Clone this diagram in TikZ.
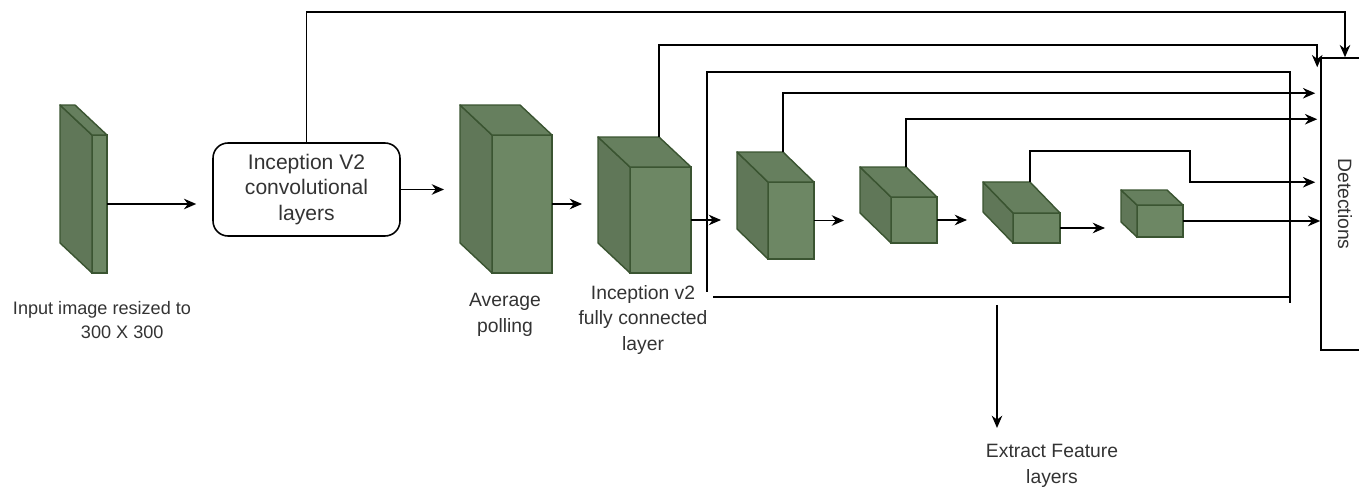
\documentclass[tikz,border=0pt]{standalone}
\usepackage{fontspec}
\setmainfont{Liberation Sans}
\usepackage{tikz}
\usetikzlibrary{arrows.meta,calc}

\definecolor{cubefill}{HTML}{6D8764}
\definecolor{cubeline}{HTML}{3A5431}

% front face as a node, then the shaded left and top faces behind it
\newcommand{\greencube}[6]{%
    \node[front, minimum width=#3, minimum height=#4] (#1) at #2 {};
    \coordinate (#1-t) at ($(#1.north east)+(#5,#6)$);
    \coordinate (#1-w) at ($(#1.west)+(#5,0)$);
    \filldraw[side, fill=cubefill!88!black] (#1.north west) -- ++(#5,#6) -- ($(#1.south west)+(#5,#6)$) -- (#1.south west) -- cycle;
    \filldraw[side, fill=cubefill!94!black] (#1.north west) -- ++(#5,#6) -- (#1-t) -- (#1.north east) -- cycle;
}

\begin{document}
\begin{tikzpicture}[x=0.02cm, y=-0.02cm, >={Stealth[length=7pt,width=6pt]}, line width=0.9pt,
    front/.style={draw=cubeline, fill=cubefill, line width=0.8pt, inner sep=0pt, outer sep=0pt},
    side/.style={draw=cubeline, line width=0.8pt, line join=round},
    lbl/.style={align=center, text=black!80, font=\fontsize{11}{14.5}\selectfont},
    gap/.style={shorten >=0.32cm}]
    \useasboundingbox (0,0) rectangle (1359,489);

    \greencube{in}{(99.5,204)}{0.30cm}{2.76cm}{-32}{-30}
    \greencube{pool}{(522,204)}{1.20cm}{2.76cm}{-32}{-30}
    \greencube{fc}{(660.5,220)}{1.22cm}{2.12cm}{-32}{-30}
    \greencube{f1}{(791,220.5)}{0.92cm}{1.54cm}{-31}{-30}
    \greencube{f2}{(914,220)}{0.92cm}{0.92cm}{-31}{-30}
    \greencube{f3}{(1036.5,228)}{0.94cm}{0.60cm}{-30}{-31}
    \greencube{f4}{(1160,221)}{0.92cm}{0.64cm}{-16}{-15}

    \node[draw, rounded corners=0.3cm, minimum width=3.74cm, minimum height=1.86cm, lbl,
        font=\fontsize{12}{14.5}\selectfont] (conv) at (306.5,189.5) {Inception V2\\convolutional\\layers};
    \node[draw, minimum width=0.96cm, minimum height=5.84cm,
        label={[rotate=-90, lbl]center:Detections}] (det) at (1345,204) {};

    \node[lbl, align=left, font=\fontsize{10.3}{13.5}\selectfont] (inlbl) at (102,320)
        {Input image resized to\\\hspace*{1.36cm}300 X 300};
    \node[lbl] (poollbl) at (505,315) {Average\\polling};
    \node[lbl] (fclbl) at (643,320) {Inception v2\\fully connected\\layer};
    \node[lbl] (extract) at (1052,466) {Extract Feature\\layers};

    % feature layer group
    \coordinate (grp-nw) at (707,72);
    \coordinate (grp-out) at (997,305);
    \draw (707,292) -- (grp-nw) -| (1290,303);
    \draw (713,297) -- (1290,297);
    \draw[->, shorten >=0.2cm] (grp-out) -- (grp-out |- extract.north);

    % main chain
    \draw[->, gap] (in) -- (in -| conv.west);
    \draw[->, gap] (conv) -- (conv -| pool-w);
    \draw[->, gap] (pool) -- (pool -| fc-w);
    \draw[->, gap] (fc) -- (fc -| f1-w);
    \draw[->, gap] (f1) -- (f1 -| f2-w);
    \draw[->, gap] (f2) -- (f2 -| f3-w);
    \draw[->, gap] (f3) -- (f3 -| f4-w);
    \draw[->] (f4) -- (f4 -| det.west);

    % skip lines to detections
    \draw[->] (conv.north) -- ++(0,-130) -| (det.north);
    \draw[->] (fc-t) -- ++(0,-92) -| ($(det.north west)+(-3,10)$);
    \draw[->] (f1-t) |- ($(det.north west)+(-5,36)$);
    \draw[->] (f2-t) |- ($(det.north west)+(-3,62)$);
    \draw[->] (f3-t) -- ++(0,-31) -- ++(160,0) |- ($(det.north west)+(-5,125)$);
\end{tikzpicture}
\end{document}
